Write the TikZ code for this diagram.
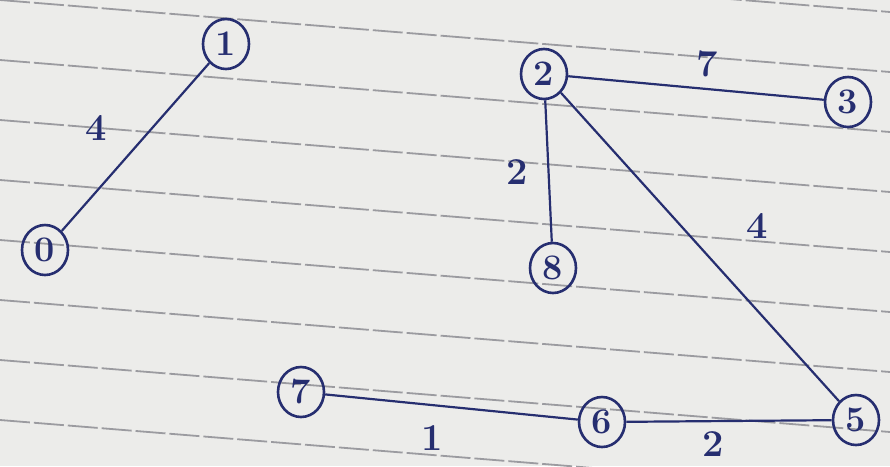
\documentclass[tikz,border=0pt]{standalone}
\usepackage{tikz}
\usetikzlibrary{shapes.geometric}
\definecolor{ink}{RGB}{38,46,112}
\definecolor{paper}{RGB}{236,236,234}
\definecolor{rule}{RGB}{155,155,160}
\begin{document}
\begin{tikzpicture}[x=1pt,y=-1pt,
  vtx/.style={draw=ink,line width=2.6pt,ellipse,minimum width=46pt,minimum height=50pt,inner sep=0pt,text=ink,font=\fontsize{36}{36}\selectfont\bfseries},
  edge/.style={draw=ink,line width=2.2pt},
  wlab/.style={text=ink,font=\fontsize{38}{38}\selectfont\bfseries},
  ruleline/.style={draw=rule,line width=1.8pt,dash pattern=on 30pt off 4pt}]
\fill[paper] (0,0) rectangle (890,466);
\useasboundingbox (0,0) rectangle (890,466);
\foreach \y in {-60,0,60,120,180,240,300,360,420,480} {
  \draw[ruleline] (0,\y) -- (890,\y+72);
}
\node[vtx] (n1) at (226,44) {1};
\node[vtx] (n0) at (45,250) {0};
\node[vtx] (n2) at (544,74) {2};
\node[vtx] (n3) at (848,102) {3};
\node[vtx] (n8) at (553,268) {8};
\node[vtx] (n7) at (301,392) {7};
\node[vtx] (n6) at (602,422) {6};
\node[vtx] (n5) at (856,420) {5};
\draw[edge] (n0) -- (n1);
\draw[edge] (n2) -- (n3);
\draw[edge] (n2) -- (n8);
\draw[edge] (n2) -- (n5);
\draw[edge] (n7) -- (n6);
\draw[edge] (n6) -- (n5);
\node[wlab] (w01) at (96,128) {4};
\node[wlab] (w23) at (707,64) {7};
\node[wlab] (w28) at (517,172) {2};
\node[wlab] (w25) at (757,226) {4};
\node[wlab] (w76) at (432,438) {1};
\node[wlab] (w65) at (713,444) {2};
\end{tikzpicture}
\end{document}
